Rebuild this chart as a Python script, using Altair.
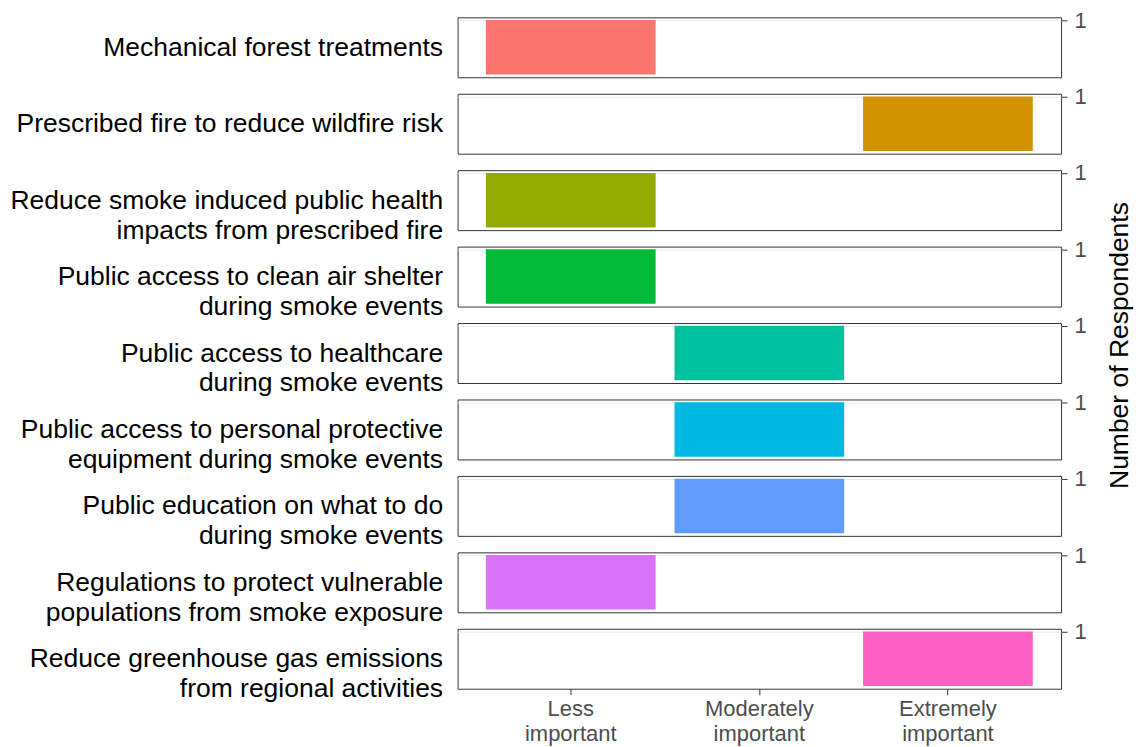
import altair as alt
import pandas as pd

categories = [
    "Mechanical forest treatments",
    "Prescribed fire to reduce wildfire risk",
    "Reduce smoke induced public health\nimpacts from prescribed fire",
    "Public access to clean air shelter\nduring smoke events",
    "Public access to healthcare\nduring smoke events",
    "Public access to personal protective\nequipment during smoke events",
    "Public education on what to do\nduring smoke events",
    "Regulations to protect vulnerable\npopulations from smoke exposure",
    "Reduce greenhouse gas emissions\nfrom regional activities",
]
importance = [
    "Less important",
    "Extremely important",
    "Less important",
    "Less important",
    "Moderately important",
    "Moderately important",
    "Moderately important",
    "Less important",
    "Extremely important",
]
counts = [1, 1, 1, 1, 1, 1, 1, 1, 1]
levels = ["Less important", "Moderately important", "Extremely important"]
colors = ["#F8766D", "#D39200", "#93AA00", "#00BA38", "#00C19F",
          "#00B9E3", "#619CFF", "#DB72FB", "#FF61C3"]
y_title = "Number of Respondents"

df = pd.DataFrame({"category": categories, "importance": importance, "count": counts})

FONT = "Liberation Sans"
n = len(categories)
mid = n // 2

panels = []
for i, cat in enumerate(categories):
    last = i == n - 1
    if last:
        xaxis = alt.Axis(
            title=None, labelAngle=0, labelExpr="split(datum.label, ' ')",
            labelFontSize=22, labelLineHeight=25, labelColor="#4D4D4D",
            labelFont=FONT, tickColor="#333333", tickSize=6, domain=False,
            gridColor="#EBEBEB", labelPadding=4,
        )
    else:
        xaxis = alt.Axis(
            title=None, labels=False, ticks=False, domain=False,
            gridColor="#EBEBEB",
        )
    yaxis_kwargs = dict(
        orient="right", values=[1],
        labelFontSize=22, labelColor="#4D4D4D", labelFont=FONT,
        tickColor="#333333", tickSize=6, domain=False,
        gridColor="#EBEBEB", labelPadding=7,
    )
    if i == mid:
        yaxis = alt.Axis(
            title=y_title, titleAngle=270, titleFontSize=26.5,
            titleColor="#000000", titleFontWeight="normal", titleFont=FONT,
            titlePadding=47, titleY=22, **yaxis_kwargs,
        )
    else:
        yaxis = alt.Axis(title=None, **yaxis_kwargs)

    bars = alt.Chart(df).mark_bar().encode(
        x=alt.X(
            "importance:N",
            scale=alt.Scale(domain=levels, paddingInner=0.1, paddingOuter=0.15),
            axis=xaxis,
        ),
        y=alt.Y(
            "count:Q",
            scale=alt.Scale(domain=[-0.05, 1.05], nice=False, zero=False),
            axis=yaxis,
        ),
        color=alt.Color(
            "category:N",
            scale=alt.Scale(domain=categories, range=colors),
            legend=None,
        ),
    )
    label = alt.Chart(df).mark_point(opacity=0).encode(
        y=alt.Y(
            "category:N",
            axis=alt.Axis(
                orient="left", title=None, ticks=False, domain=False, grid=False,
                labelExpr="split(datum.label, '\\n')",
                labelFontSize=26.5, labelLineHeight=30, labelPadding=15,
                labelColor="#000000", labelFont=FONT, labelLimit=1000,
            ),
        ),
    )
    panel = alt.layer(bars, label).transform_filter(
        alt.datum.category == cat
    ).resolve_scale(y="independent").properties(width=604, height=60)
    panels.append(panel)

chart = alt.vconcat(*panels, spacing=16.5, bounds="flush").properties(
    padding={"left": 1, "top": 0, "right": 5, "bottom": 0}
).configure_view(stroke="#333333", strokeWidth=1)

chart.save("out.html", embed_options={"renderer": "svg", "actions": False})
